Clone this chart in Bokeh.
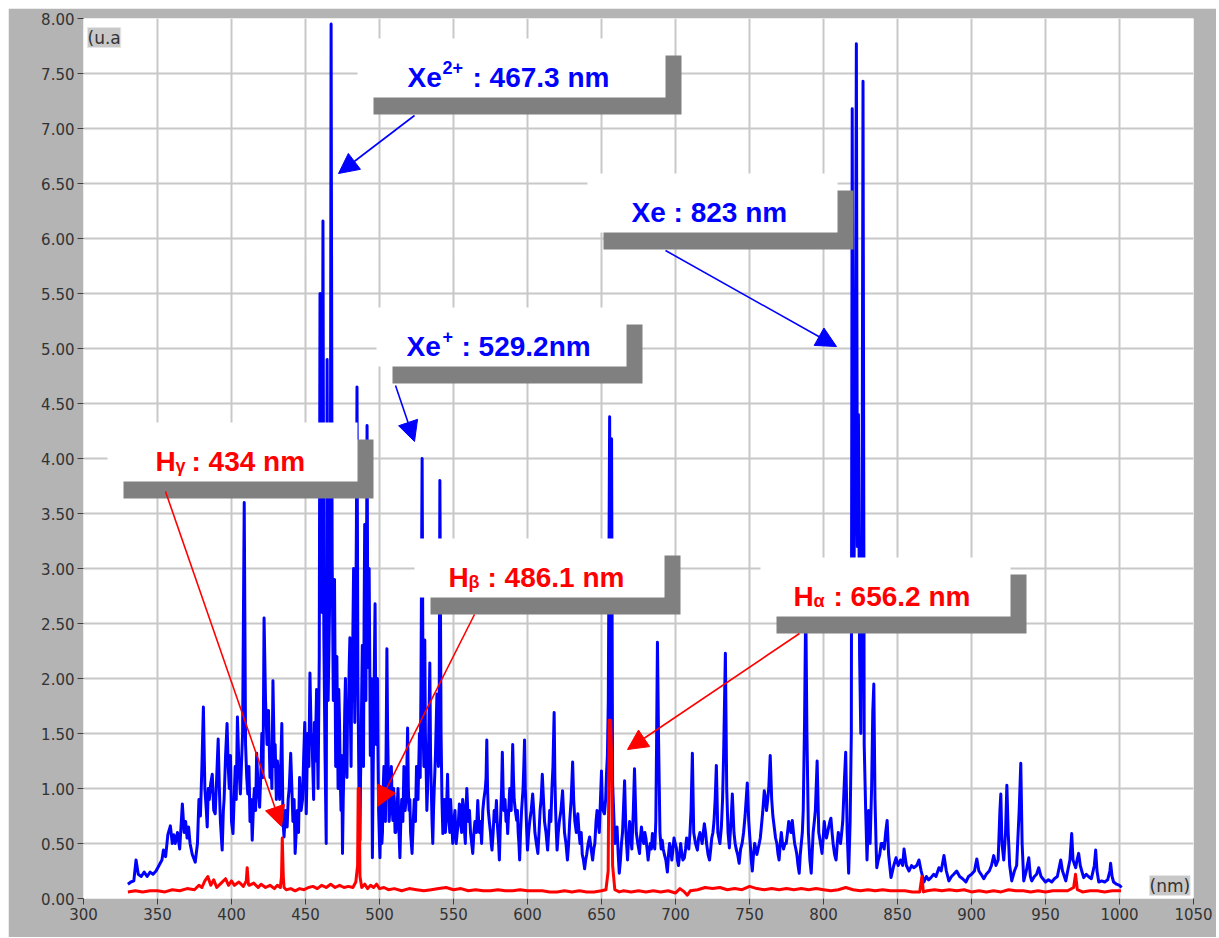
from bokeh.plotting import figure
from bokeh.models import (Range1d, BoxAnnotation, Label, Arrow, NormalHead,
                          NumeralTickFormatter, FixedTicker)
from bokeh.embed import file_html
from bokeh.resources import INLINE

# ---------------- data ----------------
x_ticks = [300, 350, 400, 450, 500, 550, 600, 650, 700, 750, 800, 850, 900, 950, 1000, 1050]
y_ticks = [0, 0.5, 1, 1.5, 2, 2.5, 3, 3.5, 4, 4.5, 5, 5.5, 6, 6.5, 7, 7.5, 8]

# blue spectrum (Xe + H), (nm, u.a.)
blue_330_450 = [
    (330, 0.13), (332, 0.15), (334, 0.16), (335.5, 0.35), (337, 0.22), (339, 0.2), (341, 0.24),
    (343, 0.2), (345, 0.24), (347, 0.22), (349, 0.25), (351, 0.3), (353, 0.35), (354, 0.44),
    (355.5, 0.38), (357, 0.58), (358.7, 0.66), (360, 0.5), (361, 0.58), (362, 0.5), (363.5, 0.6),
    (365, 0.45), (366.8, 0.86), (368, 0.6), (369, 0.7), (370, 0.55), (371, 0.65), (372, 0.5),
    (373.5, 0.4), (375.5, 0.33), (377, 0.5), (378, 0.9), (379, 0.75), (380, 1.2), (381, 1.74),
    (382, 1.0), (383, 0.8), (383.6, 0.65), (384.3, 1.0), (385, 0.9), (386, 1.05), (387, 1.13),
    (388, 0.8), (389, 0.77), (390, 1.1), (391, 1.45), (391.8, 1.0), (392.5, 0.7), (393.7, 0.44),
    (394.5, 0.8), (395, 0.9), (396, 1.3), (397, 1.59), (397.8, 1.2), (398.5, 1.0), (399.3, 1.3),
    (400, 0.7), (401, 0.59), (402, 1.0), (402.5, 1.2), (403.2, 0.9), (404, 1.65), (405, 1.2),
    (406, 0.95), (407.5, 1.5), (408.6, 3.6), (409.5, 1.4), (410.3, 1.1), (411, 0.95),
    (411.8, 1.2), (412.5, 0.7), (413.3, 0.9), (414, 0.53), (415, 0.9), (415.5, 1.0), (416.3, 0.8),
    (417, 1.32), (418, 1.0), (419, 0.83), (420, 1.2), (420.5, 1.5), (421.3, 1.1), (422, 2.55),
    (423, 1.8), (424, 1.4), (425, 1.71), (426, 1.1), (426.5, 1.3), (427.3, 1.0), (428, 1.98),
    (429, 1.2), (429.5, 1.4), (430.3, 0.9), (431, 1.25), (432, 1.1), (432.5, 0.9), (433.3, 1.2),
    (434, 1.59), (434.8, 0.7), (435.5, 0.56), (436.5, 0.8), (437.6, 0.65), (438.3, 0.9),
    (439, 1.0), (440, 1.32), (440.8, 1.0), (441.5, 0.7), (442.3, 0.9), (443, 0.41), (444.5, 0.8),
    (445.3, 0.6), (446, 1.1), (447, 0.8), (448, 0.9), (448.8, 1.3), (449.5, 1.6),
]
blue_450_560 = [
    (450.5, 0.77), (451.5, 1.5), (452.3, 1.2), (453, 2.05), (453.8, 1.5), (454.5, 1.4),
    (455.5, 0.9), (456, 1.6), (456.5, 1.25), (457.5, 1.9), (458.5, 1.0), (459.3, 2.2),
    (459.8, 5.5), (460.4, 3.2), (461.2, 2.6), (461.8, 6.16), (462.4, 2.4), (463.2, 1.3),
    (464, 0.5), (464.6, 4.9), (465.3, 1.8), (466.2, 2.6), (466.8, 3.3), (467.3, 7.95), (468, 3.1),
    (468.8, 1.8), (469.6, 2.9), (470.4, 1.2), (471.2, 2.2), (471.6, 1.6), (472, 1.0), (472.5, 1.9),
    (473, 1.6), (473.5, 1.1), (474, 0.8), (474.5, 1.3), (475, 0.41), (475.5, 0.9), (476, 1.2),
    (476.5, 1.7), (477, 2.0), (477.5, 1.4), (478, 1.1), (478.5, 1.8), (479, 1.6), (479.5, 2.1),
    (480, 2.37), (480.4, 1.6), (480.8, 1.2), (481.2, 2.0), (481.6, 1.8), (482, 2.4), (482.5, 3.0),
    (483, 2.0), (483.3, 1.6), (483.7, 2.2), (484, 2.6), (484.4, 3.4), (484.8, 4.65), (485.4, 2.0),
    (486.2, 0.9), (486.8, 0.53), (487.2, 1.1), (487.6, 1.4), (488, 1.9), (488.4, 2.3),
    (488.8, 1.6), (489.2, 1.2), (489.6, 2.6), (490, 3.4), (490.4, 2.3), (490.8, 1.8),
    (491.2, 3.0), (491.6, 4.3), (492, 2.8), (492.3, 2.1), (492.6, 2.6), (493, 3.0), (493.4, 2.2),
    (493.8, 1.3), (494.2, 1.7), (494.5, 2.0), (494.9, 1.1), (495.2, 0.37), (495.6, 1.0),
    (496, 1.5), (496.5, 2.1), (497, 2.68), (497.4, 1.9), (497.8, 1.4), (498.2, 1.7), (498.6, 2.0),
    (499, 1.3), (499.4, 0.8), (500.3, 0.37), (500.8, 0.7), (501.2, 0.9), (501.6, 0.5), (502, 0.6),
    (502.5, 1.0), (503, 1.2), (503.5, 0.9), (504, 0.7), (504.5, 1.4), (505, 2.27), (505.5, 1.5),
    (506, 1.1), (506.5, 0.7), (507, 0.8), (507.5, 1.0), (508, 1.2), (508.5, 0.9), (509, 0.71),
    (509.5, 1.0), (510, 0.9), (510.5, 0.6), (511, 0.6), (511.8, 0.8), (512.5, 1.0), (513.2, 0.6),
    (513.8, 0.37), (514.4, 0.7), (515, 0.9), (515.8, 0.7), (516.5, 1.2), (517.3, 0.8), (518, 0.9),
    (518.5, 1.2), (519, 1.55), (519.5, 1.0), (520, 0.8), (520.5, 0.9), (521, 0.6), (522, 0.41),
    (522.8, 0.7), (523.5, 0.9), (524.3, 0.7), (525, 1.2), (525.5, 1.0), (526, 0.9), (526.5, 1.2),
    (527, 1.5), (527.5, 1.1), (528, 1.9), (528.8, 4.0), (529.5, 1.5), (530, 1.2), (530.6, 2.35),
    (531, 1.5), (531.5, 1.2), (532, 0.8), (532.5, 1.0), (533.2, 1.4), (534, 2.14), (534.5, 1.3),
    (535, 1.0), (535.5, 0.7), (536, 0.5), (536.5, 0.8), (537, 1.0), (537.8, 1.3), (538.8, 1.86),
    (539.3, 1.4), (539.8, 1.2), (540.3, 1.6), (540.8, 3.8), (541.6, 1.5), (542.2, 0.9),
    (542.8, 0.59), (543.4, 0.8), (544, 0.9), (544.5, 0.6), (545, 0.7), (545.5, 0.9), (546, 1.13),
    (546.5, 0.8), (547, 0.7), (547.5, 0.6), (548, 0.9), (548.8, 0.7), (549.5, 0.5), (550.2, 0.7),
    (551, 0.8), (551.8, 0.5), (552.5, 0.6), (553.3, 0.7), (554, 0.86), (554.8, 0.7), (555.5, 0.6),
    (556.2, 0.9), (557, 0.8), (557.5, 0.6), (558, 0.5), (558.5, 0.8), (559, 1.0),
]
blue_560_660 = [
    (560, 0.7), (560.8, 0.8), (561.5, 0.6), (562.3, 0.5), (563, 0.41), (563.8, 0.6), (564.5, 0.7),
    (565.5, 0.6), (566.4, 0.89), (567, 0.7), (567.5, 0.6), (568.2, 0.7), (569, 0.5), (569.8, 0.8),
    (570.5, 0.9), (571.5, 1.0), (572, 1.1), (572.5, 1.44), (573, 1.0), (573.5, 0.8), (574.2, 0.7),
    (575, 0.6), (575.5, 0.5), (576, 0.44), (576.8, 0.6), (577.5, 0.8), (578.3, 0.7), (579, 0.89),
    (579.5, 0.7), (580, 0.6), (580.5, 0.5), (581, 0.35), (581.5, 0.6), (582, 0.8), (582.5, 1.0),
    (583, 1.33), (583.5, 1.0), (584, 0.8), (584.8, 0.9), (585.5, 0.7), (586, 0.8), (586.6, 0.59),
    (587.3, 0.8), (588, 1.0), (588.5, 0.9), (589, 0.8), (589.5, 1.1), (590, 1.4), (590.5, 1.1),
    (591, 0.9), (591.8, 0.8), (592.7, 0.71), (593.2, 0.8), (593.7, 0.6), (594.2, 0.5),
    (594.7, 0.35), (595.3, 0.6), (596, 0.8), (596.5, 0.9), (597, 1.0), (597.5, 1.2), (598, 1.44),
    (598.5, 1.0), (599, 0.8), (599.5, 0.6), (600, 0.44), (600.8, 0.6), (601.5, 0.7), (602.5, 0.8),
    (603.5, 0.95), (604.2, 0.8), (605, 0.6), (606, 0.5), (607, 0.41), (607.8, 0.6), (608.5, 0.8),
    (609.2, 0.9), (610, 1.13), (610.8, 0.9), (611.5, 0.7), (612.5, 0.6), (613.6, 0.44),
    (614.3, 0.6), (615, 0.8), (615.8, 0.7), (616.5, 1.0), (617.2, 1.2), (618, 1.69), (618.5, 1.1),
    (619, 0.8), (619.5, 0.6), (620, 0.44), (620.8, 0.6), (621.5, 0.7), (622.6, 0.8), (623.7, 0.98),
    (624.3, 0.8), (625, 0.6), (626, 0.5), (627, 0.35), (627.8, 0.5), (628.5, 0.7), (629.5, 0.9),
    (630.5, 1.24), (631.2, 0.9), (632, 0.7), (633, 0.6), (634, 0.77), (634.8, 0.6), (635.5, 0.5),
    (636.3, 0.6), (637, 0.4), (637.8, 0.35), (638.6, 0.27), (639.3, 0.35), (640, 0.4), (641, 0.5),
    (642, 0.56), (643, 0.45), (644, 0.35), (644.8, 0.45), (645.5, 0.5), (646.3, 0.7), (647, 0.8),
    (647.8, 0.7), (648.5, 0.6), (649.3, 0.9), (650, 1.16), (650.5, 0.9), (651, 0.8), (652, 0.77),
    (652.8, 0.9), (653.4, 1.14), (654, 1.3), (654.6, 1.8), (655.5, 4.38), (656.2, 1.4),
    (656.8, 4.18), (657.5, 1.05), (658.2, 0.8), (659, 0.5),
]
blue_660_845 = [
    (660.5, 0.65), (661.3, 0.4), (662, 0.23), (662.8, 0.35), (663.5, 0.5), (664.2, 0.6),
    (664.8, 0.8), (665.6, 1.07), (666.5, 0.6), (667.6, 0.35), (668.3, 0.55), (669, 0.7),
    (669.8, 0.55), (670.5, 0.45), (671.5, 0.8), (672.3, 1.18), (673.5, 0.6), (674.5, 0.5),
    (675.7, 0.41), (676.3, 0.55), (677, 0.65), (677.8, 0.55), (678.5, 0.5), (679.3, 0.6),
    (680, 0.55), (680.8, 0.45), (681.5, 0.35), (682.3, 0.45), (683, 0.5), (683.7, 0.45),
    (684.4, 0.59), (685.2, 0.5), (686, 0.45), (686.7, 0.7), (687.2, 1.4), (687.8, 2.33),
    (688.5, 1.5), (689.5, 0.6), (690.3, 0.45), (691, 0.53), (691.7, 0.45), (692.5, 0.4),
    (693.5, 0.35), (694.5, 0.24), (695.3, 0.4), (696, 0.5), (696.8, 0.45), (697.5, 0.35),
    (698.3, 0.45), (699, 0.55), (699.8, 0.5), (700.6, 0.46), (701.3, 0.35), (702, 0.3),
    (702.8, 0.4), (703.5, 0.5), (704.3, 0.4), (705, 0.35), (706, 0.37), (706.8, 0.45),
    (707.5, 0.55), (708.3, 0.5), (709, 0.45), (709.8, 0.6), (710.5, 0.8), (711.4, 1.32),
    (712.3, 0.6), (713.5, 0.5), (714.8, 0.44), (715.6, 0.55), (716.5, 0.6), (717.3, 0.55),
    (718, 0.5), (718.8, 0.6), (719.5, 0.68), (720.3, 0.6), (721, 0.5), (722, 0.4), (723, 0.35),
    (723.8, 0.45), (724.5, 0.55), (725.3, 0.6), (726, 0.7), (726.8, 0.9), (727.6, 1.21),
    (728.6, 0.6), (729.3, 0.55), (730, 0.5), (731, 0.65), (731.8, 0.9), (732.5, 1.3),
    (733.7, 2.23), (734.6, 1.0), (735.5, 0.6), (736.4, 0.46), (737.5, 0.7), (738.4, 0.95),
    (739.5, 0.6), (740.3, 0.5), (741, 0.45), (742, 0.4), (743, 0.32), (744, 0.45), (745, 0.5),
    (746, 0.6), (747, 0.75), (748.5, 1.05), (749.5, 0.7), (750.5, 0.5), (751.2, 0.35),
    (751.9, 0.25), (752.7, 0.4), (753.5, 0.5), (754.3, 0.45), (755, 0.4), (755.8, 0.45),
    (756.6, 0.5), (757.3, 0.55), (758, 0.65), (759, 0.8), (760, 0.98), (760.8, 0.9), (761.5, 0.8),
    (762.3, 0.9), (763, 1.0), (764, 1.3), (765, 0.9), (765.8, 0.75), (766.7, 0.65), (767.6, 0.55),
    (768.5, 0.5), (769.3, 0.4), (770, 0.35), (770.8, 0.5), (771.5, 0.6), (772.3, 0.5),
    (773, 0.45), (774, 0.5), (774.8, 0.5), (775.7, 0.6), (776.5, 0.7), (777.3, 0.65), (778, 0.6),
    (778.9, 0.71), (779.7, 0.6), (780.5, 0.5), (781.3, 0.45), (782, 0.4), (782.8, 0.3),
    (783.6, 0.23), (784.3, 0.4), (785, 0.5), (785.7, 0.6), (786.3, 0.8), (787.2, 1.6), (788, 2.7),
    (788.8, 1.5), (789.8, 0.6), (790.8, 0.35), (791.7, 0.23), (792.3, 0.4), (793, 0.6),
    (793.8, 0.7), (794.5, 0.8), (795.7, 1.25), (796.8, 0.6), (797.4, 0.55), (798, 0.5),
    (799, 0.41), (799.8, 0.55), (800.5, 0.7), (801.3, 0.6), (802, 0.55), (802.8, 0.6),
    (803.5, 0.65), (804.3, 0.7), (805, 0.73), (805.8, 0.6), (806.5, 0.5), (807.5, 0.4),
    (808.5, 0.35), (809.3, 0.5), (810, 0.6), (810.8, 0.55), (811.5, 0.5), (812.3, 0.6), (813, 0.7),
    (813.6, 0.9), (814.2, 1.1), (815, 1.33), (816, 0.6), (817, 0.23), (818, 0.7), (818.8, 1.5),
    (819.4, 7.18), (820.2, 2.5), (821, 3.5), (821.6, 5.0), (822.2, 7.77), (822.9, 3.2),
    (823.6, 4.4), (824.4, 2.2), (825.2, 1.5), (826, 3.0), (826.7, 7.43), (827.5, 1.4),
    (828.5, 0.8), (829.4, 0.35), (830.5, 0.8), (831.5, 0.5), (832.5, 1.0), (833.3, 1.7),
    (834, 1.95), (834.8, 0.9), (835.5, 0.5), (836, 0.28), (837, 0.35), (838, 0.4), (839, 0.5),
    (840, 0.5), (841, 0.45), (842, 0.6), (843, 0.71), (844, 0.4),
]
blue_845_1001 = [
    (845.6, 0.19), (847.5, 0.3), (849, 0.37), (850.5, 0.3), (852, 0.35), (853.5, 0.3),
    (854.4, 0.45), (856, 0.3), (857.8, 0.25), (859.5, 0.3), (861, 0.28), (863, 0.3), (864.5, 0.35),
    (866, 0.25), (867.9, 0.15), (869.5, 0.2), (871, 0.17), (872.6, 0.19), (874.5, 0.22),
    (876, 0.2), (878, 0.28), (879.5, 0.25), (881.4, 0.39), (883, 0.25), (884.7, 0.16),
    (886.5, 0.2), (888, 0.22), (890, 0.25), (892, 0.2), (894, 0.18), (896.2, 0.15), (898, 0.2),
    (900, 0.22), (902, 0.25), (903.6, 0.36), (905, 0.25), (906.5, 0.22), (908.3, 0.18),
    (910, 0.22), (912, 0.25), (913.5, 0.3), (915, 0.39), (916.5, 0.3), (918, 0.35), (919.2, 0.8),
    (919.8, 0.95), (920.6, 0.5), (921.8, 0.35), (923, 0.6), (923.9, 1.03), (924.8, 0.6),
    (925.8, 0.3), (927.2, 0.16), (929, 0.25), (930.5, 0.3), (932.2, 0.8), (933.3, 1.23),
    (934.2, 0.5), (935.3, 0.16), (937, 0.25), (938.7, 0.37), (939.8, 0.2), (940.7, 0.16),
    (942.5, 0.2), (944, 0.22), (945.4, 0.28), (947, 0.2), (950, 0.15), (952, 0.17), (954.2, 0.15),
    (956, 0.18), (958, 0.2), (960.3, 0.35), (961.5, 0.25), (963.7, 0.16), (965, 0.25),
    (966.5, 0.35), (967.7, 0.59), (968.6, 0.35), (970.4, 0.28), (971.3, 0.35), (972.4, 0.41),
    (973.5, 0.3), (974.5, 0.25), (975.8, 0.19), (977.5, 0.22), (979, 0.2), (981, 0.18), (983, 0.3),
    (983.9, 0.44), (984.8, 0.25), (986, 0.15), (988, 0.16), (990, 0.15), (992, 0.17),
    (993.5, 0.25), (994, 0.32), (995, 0.2), (996, 0.15), (998, 0.13), (1000, 0.12),
    (1001.4, 0.1),
]

# red spectrum (H), (nm, u.a.)
red_330_500 = [
    (330, 0.06), (335, 0.07), (340, 0.06), (345, 0.07), (350, 0.07), (355, 0.06), (360, 0.08),
    (365, 0.07), (370, 0.09), (375, 0.08), (378, 0.12), (380, 0.1), (382, 0.16), (384, 0.2),
    (386, 0.12), (388, 0.17), (390, 0.1), (393, 0.14), (396, 0.18), (398, 0.12), (400, 0.16),
    (402, 0.12), (405, 0.15), (408, 0.11), (410, 0.16), (410.6, 0.28), (411.4, 0.13), (412, 0.12),
    (415, 0.14), (418, 0.1), (420, 0.13), (423, 0.1), (426, 0.12), (429, 0.09), (431, 0.12),
    (433, 0.1), (433.8, 0.2), (434.3, 0.55), (435, 0.2), (435.5, 0.1), (437, 0.08), (440, 0.09),
    (443, 0.07), (446, 0.09), (449, 0.08), (452, 0.1), (455, 0.11), (458, 0.09), (461, 0.12),
    (464, 0.1), (467, 0.13), (470, 0.1), (473, 0.12), (476, 0.1), (479, 0.11), (482, 0.1),
    (484, 0.15), (485.2, 0.3), (485.6, 1.0), (486.3, 1.0), (486.8, 0.2), (488, 0.1), (490, 0.13),
    (492, 0.09), (494, 0.12), (496, 0.1), (498, 0.13),
]
red_500_1001 = [
    (500, 0.09), (503, 0.1), (506, 0.08), (510, 0.09), (515, 0.07), (520, 0.09), (525, 0.08),
    (530, 0.07), (535, 0.08), (540, 0.09), (545, 0.1), (550, 0.08), (555, 0.09), (560, 0.07),
    (565, 0.08), (570, 0.07), (575, 0.07), (580, 0.08), (585, 0.07), (590, 0.07), (595, 0.08),
    (600, 0.07), (605, 0.07), (610, 0.07), (615, 0.06), (620, 0.06), (625, 0.07), (630, 0.06),
    (635, 0.07), (640, 0.06), (645, 0.06), (650, 0.07), (653, 0.08), (654.5, 0.25), (655.2, 1.62),
    (656.2, 1.62), (656.8, 1.3), (657.5, 0.3), (659, 0.08), (662, 0.06), (665, 0.07), (670, 0.06),
    (675, 0.07), (680, 0.06), (685, 0.07), (690, 0.06), (695, 0.07), (700, 0.05), (703, 0.09),
    (706, 0.06), (708, 0.03), (710, 0.07), (715, 0.08), (720, 0.1), (725, 0.09), (730, 0.1),
    (735, 0.08), (740, 0.09), (745, 0.08), (750, 0.11), (755, 0.09), (760, 0.08), (765, 0.09),
    (770, 0.08), (775, 0.09), (780, 0.08), (785, 0.09), (790, 0.08), (795, 0.09), (800, 0.08),
    (805, 0.07), (810, 0.08), (815, 0.1), (820, 0.08), (825, 0.07), (830, 0.08), (835, 0.07),
    (840, 0.08), (845, 0.07), (850, 0.07), (855, 0.07), (860, 0.06), (865, 0.06), (866.5, 0.2),
    (867.5, 0.06), (870, 0.07), (875, 0.08), (880, 0.07), (885, 0.08), (890, 0.07), (895, 0.08),
    (900, 0.06), (905, 0.07), (910, 0.06), (915, 0.07), (920, 0.06), (925, 0.08), (930, 0.07),
    (935, 0.07), (940, 0.06), (945, 0.07), (950, 0.06), (955, 0.07), (960, 0.07), (965, 0.07),
    (969, 0.1), (970.3, 0.22), (971.5, 0.08), (975, 0.06), (980, 0.07), (985, 0.07), (990, 0.06),
    (995, 0.07), (1001, 0.07),
]

blue = blue_330_450 + blue_450_560 + blue_560_660 + blue_660_845 + blue_845_1001
red = red_330_500 + red_500_1001
blue_nm = [a for a, b in blue]
blue_val = [b for a, b in blue]
red_nm = [a for a, b in red]
red_val = [b for a, b in red]

# ---------------- layout helpers (page pixel -> data, for annotations) ----------------
FR_L, FR_T, FR_W, FR_H = 83, 18, 1110, 880
X0, X1, Y0, Y1 = 300, 1050, 0, 8


def dx(px):
    return X0 + (px - FR_L) * (X1 - X0) / FR_W


def dy(py):
    return Y1 - (py - FR_T) * (Y1 - Y0) / FR_H


p = figure(width=1208, height=929, x_range=Range1d(X0, X1), y_range=Range1d(Y0, Y1),
           output_backend="svg", toolbar_location=None,
           min_border_left=75, min_border_right=1208 - 75 - FR_W,
           min_border_top=10, min_border_bottom=929 - 10 - FR_H)
p.margin = (8, 0, 0, 8)
p.border_fill_color = "#b4b4b4"
p.background_fill_color = "white"
p.outline_line_color = None

for ax, ticks in ((p.xaxis, x_ticks), (p.yaxis, y_ticks)):
    ax.ticker = FixedTicker(ticks=ticks)
    ax.axis_line_color = None
    ax.major_tick_line_color = "#3c3c3c"
    ax.major_tick_in = 0
    ax.major_tick_out = 6
    ax.minor_tick_line_color = None
    ax.major_label_text_font = "DejaVu Sans"
    ax.major_label_text_font_size = "15px"
    ax.major_label_text_color = "#333333"
p.yaxis.formatter = NumeralTickFormatter(format="0.00")
p.yaxis.major_label_standoff = 3
p.xaxis.major_label_standoff = 3
p.xgrid.ticker = FixedTicker(ticks=x_ticks)
p.ygrid.ticker = FixedTicker(ticks=y_ticks)
for g in (p.xgrid, p.ygrid):
    g.grid_line_color = "#c8c8c8"
    g.grid_line_width = 2

p.line(blue_nm, blue_val, line_color="#0000ff", line_width=3, line_join="round")
p.line(red_nm, red_val, line_color="#ff0000", line_width=3, line_join="round")

# corner unit labels
p.add_layout(Label(x=dx(87), y=dy(27), text="(u.a", text_baseline="top",
                   text_font="DejaVu Sans", text_font_size="17px", text_color="#333333",
                   background_fill_color="#c8c8c8", border_line_color="#e6e6e6"))
p.add_layout(Label(x=dx(1149), y=dy(895), text="(nm)", text_baseline="bottom",
                   text_font="DejaVu Sans", text_font_size="17px", text_color="#333333",
                   background_fill_color="#c8c8c8", border_line_color="#e6e6e6"))

# annotation boxes: (left px, top px, width px, color, pieces, arrow start, arrow tip)
BLUE, RED = "#0000ff", "#ff0000"
BOX_H, SH = 59, 16
notes = [
    (357, 38, 308, BLUE, [("Xe", 407, 0), ("2+", 442, -10), (": 467.3 nm", 472, 0)], (414, 115), (338, 173)),
    (587, 173, 250, BLUE, [("Xe : 823 nm", 631, 0)], (665, 250), (836, 346)),
    (376, 307, 250, BLUE, [("Xe", 406, 0), ("+", 442, -10), (": 529.2nm", 461, 0)], (395, 385), (414, 441)),
    (107, 422, 250, RED, [("H", 155, 0), ("γ", 175, 4), (": 434 nm", 191, 0)], (165, 491), (281, 826)),
    (414, 538, 250, RED, [("H", 448, 0), ("β", 468, 4), (": 486.1 nm", 487, 0)], (474, 614), (377, 806)),
    (760, 557, 250, RED, [("H", 793, 0), ("α", 813, 4), (": 656.2 nm", 833, 0)], (799, 633), (627, 749)),
]
for left, top, w, col, pieces, a0, a1 in notes:
    p.add_layout(BoxAnnotation(left=dx(left + SH), right=dx(left + w + SH),
                               top=dy(top + SH + 1), bottom=dy(top + BOX_H + SH + 1),
                               fill_color="#808080", fill_alpha=1, line_color=None))
    p.add_layout(BoxAnnotation(left=dx(left), right=dx(left + w), top=dy(top),
                               bottom=dy(top + BOX_H), fill_color="white", fill_alpha=1,
                               line_color=None))
    base = top + 39
    for txt, px, off in pieces:
        p.add_layout(Label(x=dx(px), y=dy(base + off), text=txt, text_baseline="alphabetic",
                           text_font="Liberation Sans", text_font_style="bold",
                           text_font_size="28px" if off == 0 else "18px", text_color=col))
    p.add_layout(Arrow(end=NormalHead(size=20, fill_color=col, line_color=col, line_width=1),
                       x_start=dx(a0[0]), y_start=dy(a0[1]), x_end=dx(a1[0]), y_end=dy(a1[1]),
                       line_color=col, line_width=1.6))

open("out.html", "w").write(file_html(p, INLINE))
